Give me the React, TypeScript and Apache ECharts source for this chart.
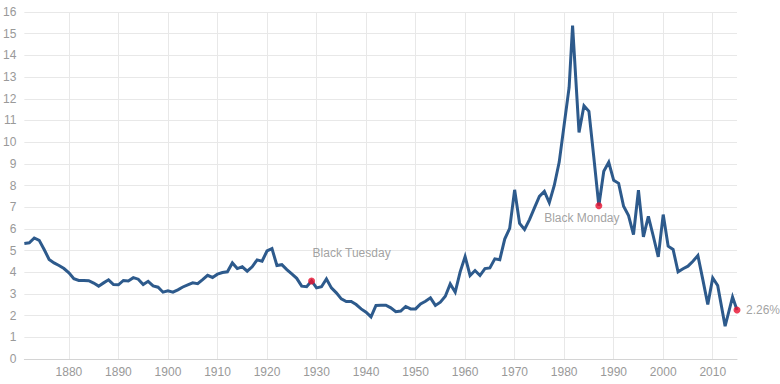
import React, { useEffect, useRef } from "react";
import * as echarts from "echarts";

const years: number[] = [
  1871, 1872, 1873, 1874, 1875, 1876, 1877, 1878, 1879, 1880,
  1881, 1882, 1883, 1884, 1885, 1886, 1887, 1888, 1889, 1890,
  1891, 1892, 1893, 1894, 1895, 1896, 1897, 1898, 1899, 1900,
  1901, 1902, 1903, 1904, 1905, 1906, 1907, 1908, 1909, 1910,
  1911, 1912, 1913, 1914, 1915, 1916, 1917, 1918, 1919, 1920,
  1921, 1922, 1923, 1924, 1925, 1926, 1927, 1928, 1929, 1930,
  1931, 1932, 1933, 1934, 1935, 1936, 1937, 1938, 1939, 1940,
  1941, 1942, 1943, 1944, 1945, 1946, 1947, 1948, 1949, 1950,
  1951, 1952, 1953, 1954, 1955, 1956, 1957, 1958, 1959, 1960,
  1961, 1962, 1963, 1964, 1965, 1966, 1967, 1968, 1969, 1970,
  1971, 1972, 1973, 1974, 1975, 1976, 1977, 1978, 1979, 1980,
  1981, 1981.7, 1983, 1984, 1985, 1986, 1987, 1988, 1989, 1990,
  1991, 1992, 1993, 1994, 1995, 1996, 1997, 1998, 1999, 2000,
  2001, 2002, 2003, 2004, 2005, 2006, 2007, 2008, 2009, 2010,
  2011, 2012.5, 2014, 2014.9,
];

const rates: number[] = [
  5.33, 5.36, 5.58, 5.47, 5.05, 4.59, 4.43, 4.31, 4.17, 3.97,
  3.7, 3.62, 3.62, 3.61, 3.5, 3.36, 3.51, 3.65, 3.43, 3.42,
  3.62, 3.6, 3.75, 3.68, 3.43, 3.58, 3.37, 3.31, 3.08, 3.14,
  3.08, 3.19, 3.32, 3.42, 3.51, 3.47, 3.66, 3.86, 3.76, 3.91,
  3.99, 4.02, 4.43, 4.17, 4.25, 4.05, 4.25, 4.57, 4.51, 4.98,
  5.09, 4.31, 4.35, 4.12, 3.92, 3.72, 3.36, 3.33, 3.6, 3.28,
  3.33, 3.69, 3.28, 3.05, 2.77, 2.65, 2.65, 2.51, 2.31, 2.16,
  1.94, 2.47, 2.48, 2.48, 2.36, 2.18, 2.21, 2.42, 2.31, 2.31,
  2.54, 2.66, 2.82, 2.47, 2.62, 2.89, 3.46, 3.08, 4.02, 4.72,
  3.85, 4.08, 3.85, 4.17, 4.2, 4.62, 4.58, 5.53, 6.02, 7.8,
  6.25, 5.97, 6.43, 6.97, 7.5, 7.73, 7.21, 8.0, 9.08, 10.8,
  12.52, 15.37, 10.45, 11.68, 11.42, 9.27, 7.07, 8.66, 9.07, 8.24,
  8.1, 7.04, 6.61, 5.74, 7.78, 5.63, 6.58, 5.66, 4.71, 6.66,
  5.2, 5.05, 4.02, 4.16, 4.28, 4.51, 4.77, 3.66, 2.51, 3.74,
  3.39, 1.51, 2.86, 2.26,
];

const tickYears: number[] = [
  1880, 1890, 1900, 1910, 1920, 1930, 1940, 1950, 1960, 1970, 1980, 1990, 2000, 2010,
];

const annotationYears: number[] = [1929, 1987, 2014.9];
const annotationLabels: string[] = ["Black Tuesday", "Black Monday", "2.26%"];

const FONT = "'Liberation Sans', Arial, sans-serif";
const LABEL_COLOR = "#999999";
const NOTE_COLOR = "#8a8a8a";
const LINE_COLOR = "#2d5a8c";
const DOT_COLOR = "#e8102e";

const labelPlacement = [
  { align: "left", offset: [1, -28] },
  { align: "center", offset: [-17, 12] },
  { align: "left", offset: [9, 0] },
];

export default function App() {
  const ref = useRef<HTMLDivElement>(null);

  useEffect(() => {
    if (!ref.current) return;
    const chart = echarts.init(ref.current, null, { renderer: "svg" });

    const lineData = years.map((y, i) => [y, rates[i]]);
    const noteData = annotationYears.map((y, i) => {
      const idx = years.indexOf(y);
      const p = labelPlacement[i];
      return {
        value: [y, rates[idx]],
        label: {
          show: true,
          formatter: annotationLabels[i],
          position: "inside",
          align: p.align,
          verticalAlign: "middle",
          offset: p.offset,
          color: NOTE_COLOR,
          fontSize: 12,
          fontFamily: FONT,
        },
      };
    });

    chart.setOption({
      animation: false,
      backgroundColor: "#ffffff",
      textStyle: { fontFamily: FONT },
      grid: { left: 22, right: 43, top: 12, bottom: 25, containLabel: false },
      xAxis: {
        type: "value",
        min: years[0],
        max: years[years.length - 1],
        axisLine: { show: true, lineStyle: { color: "#d4d4d4", width: 1 } },
        axisTick: { show: false, customValues: tickYears },
        axisLabel: {
          customValues: tickYears,
          formatter: (v: number) => String(v),
          color: LABEL_COLOR,
          fontSize: 12,
          fontFamily: FONT,
          margin: 7,
        },
        splitLine: { show: true, lineStyle: { color: "#e8e8e8", width: 1 } },
      },
      yAxis: {
        type: "value",
        min: 0,
        max: 16,
        interval: 1,
        axisLine: { show: false },
        axisTick: { show: false },
        axisLabel: {
          color: LABEL_COLOR,
          fontSize: 12,
          fontFamily: FONT,
          margin: 8,
        },
        splitLine: { show: true, lineStyle: { color: "#e8e8e8", width: 1 } },
      },
      series: [
        {
          type: "line",
          data: lineData,
          showSymbol: false,
          symbol: "none",
          lineStyle: { color: LINE_COLOR, width: 3, join: "miter" },
          z: 2,
          silent: true,
        },
        {
          type: "scatter",
          data: noteData,
          symbol: "circle",
          symbolSize: 7,
          itemStyle: { color: DOT_COLOR },
          z: 3,
          silent: true,
        },
      ],
    });

    return () => {
      chart.dispose();
    };
  }, []);

  return (
    <div
      ref={ref}
      style={{ position: "fixed", left: 0, top: 0, width: 780, height: 384, background: "#fff" }}
    />
  );
}
